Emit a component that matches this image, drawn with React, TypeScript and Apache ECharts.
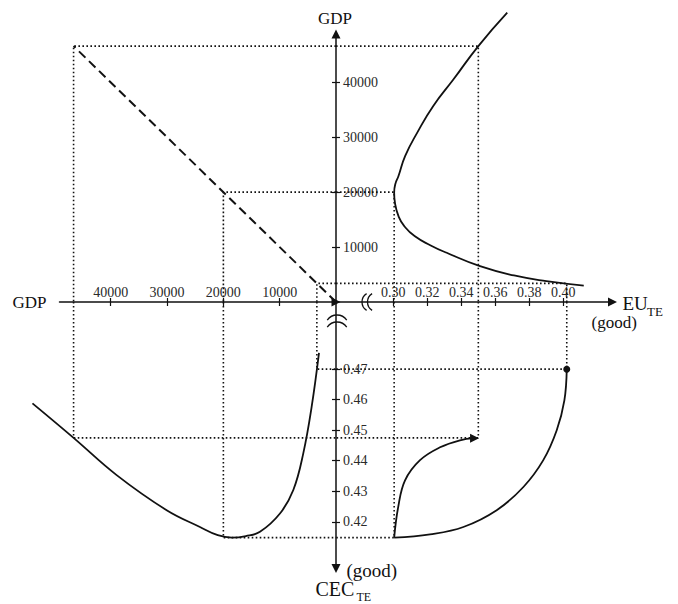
import React, { useEffect, useRef } from "react";
import * as echarts from "echarts";

// Tick values on the four half-axes
const euTicks = [0.3, 0.32, 0.34, 0.36, 0.38, 0.4];
const gdpTicks = [10000, 20000, 30000, 40000];
const cecTicks = [0.42, 0.43, 0.44, 0.45, 0.46, 0.47];

// Upper right: EU_TE against GDP
const euCurveEU = [0.412, 0.39, 0.371, 0.351, 0.3314, 0.322, 0.3125, 0.3065, 0.3032, 0.301, 0.3005, 0.3012, 0.303, 0.307, 0.314, 0.3235, 0.3353, 0.35, 0.367];
const euCurveGDP = [3000, 3800, 4830, 6520, 8960, 10300, 12000, 13800, 15500, 18000, 19900, 21500, 22900, 26600, 30800, 35700, 40500, 46600, 52700];

// Upper left: 45-degree GDP mirror line
const mirrorGDP = [0, 46600];

// Lower left: CEC_TE against GDP
const cecCurveGDP = [53900, 46600, 38950, 30070, 24160, 21000, 18500, 16000, 13500, 9950, 7580, 5810, 4320, 3020];
const cecCurveCEC = [0.4588, 0.4475, 0.4353, 0.4238, 0.4183, 0.4156, 0.4148, 0.4153, 0.4167, 0.4227, 0.4304, 0.4424, 0.4577, 0.4753];

// Lower right: EU_TE against CEC_TE paths
const pathLowEU = [0.3005, 0.3216, 0.3412, 0.3608, 0.3765, 0.3882, 0.3961, 0.4006, 0.402];
const pathLowCEC = [0.4148, 0.4159, 0.4183, 0.4238, 0.4314, 0.4402, 0.45, 0.4598, 0.47];
const pathHighEU = [0.3005, 0.3029, 0.3069, 0.3157, 0.3275, 0.3392, 0.3478];
const pathHighCEC = [0.4148, 0.4249, 0.4336, 0.4402, 0.4444, 0.4467, 0.4474];

// Reading guides (one per GDP level)
const guideGDP = [46600, 20000, 3400];
const guideEU = [0.35, 0.3005, 0.402];
const guideCEC = [0.4475, 0.4148, 0.47];

// Axis ranges
const EU_MIN = 0.2663;
const EU_MAX = 0.4289;
const GDP_UP_MAX = 48800;
const GDP_LEFT_MAX = 49100;
const CEC_MIN = 0.4047;
const CEC_MAX = 0.492;

const INK = "#111";
const LABEL = "#2a2a2a";
const SERIF = "Liberation Serif";

// Geometry of the cross
const CX = 336;
const CY = 302;
const RIGHT = 612.5;
const TOP = 34;
const LEFT = 59.5;
const BOTTOM = 568.5;
// the lower-left panel reaches further out so its curve is not cut
const LEFT_LOW = 20;

const zip = (a: number[], b: number[]) => a.map((v, i) => [v, b[i]]);

const arrowLine = (symbol: string[]) => ({
  show: true,
  onZero: false,
  symbol,
  symbolSize: [9, 9],
  lineStyle: { color: INK, width: 1.5 },
});
const hiddenLine = { show: false, onZero: false };
const ticks = (values: number[]) => ({
  show: true,
  inside: true,
  length: 4,
  customValues: values,
  lineStyle: { color: INK, width: 1.2 },
});
const labels = (values: number[], fmt: (v: number) => string, margin: number) => ({
  show: true,
  inside: true,
  margin,
  customValues: values,
  formatter: fmt,
  color: LABEL,
  fontSize: 14,
  fontFamily: SERIF,
});
const noLabels = { show: false };
const fmtDec = (v: number) => v.toFixed(2);
const fmtInt = (v: number) => String(Math.round(v));

function buildOption() {
  const solid = { color: INK, width: 1.8 };
  const dotted = { color: INK, width: 1.6, type: [1.6, 2.4] };

  const curve = (xi: number, data: any[], extra: any = {}) => ({
    type: "line",
    xAxisIndex: xi,
    yAxisIndex: xi,
    data,
    smooth: 0.4,
    showSymbol: false,
    symbol: "none",
    clip: false,
    lineStyle: solid,
    z: 5,
    ...extra,
  });
  const guide = (xi: number, data: number[][]) => ({
    type: "line",
    xAxisIndex: xi,
    yAxisIndex: xi,
    data,
    symbol: "none",
    showSymbol: false,
    clip: false,
    lineStyle: dotted,
    z: 3,
  });

  const guides: any[] = [];
  guideGDP.forEach((g, i) => {
    const e = guideEU[i];
    const c = guideCEC[i];
    guides.push(guide(0, [[EU_MIN, g], [e, g], [e, 0]]));
    guides.push(guide(1, [[0, g], [g, g], [g, 0]]));
    guides.push(guide(2, [[g, CEC_MAX], [g, c], [0, c]]));
    guides.push(guide(3, [[e, CEC_MAX], [e, c], [EU_MIN, c]]));
  });

  const lowData: any[] = zip(pathLowEU, pathLowCEC).map((p, i, arr) =>
    i === arr.length - 1 ? { value: p, symbol: "circle", symbolSize: 7, itemStyle: { color: INK } } : { value: p }
  );
  const highData: any[] = zip(pathHighEU, pathHighCEC).map((p, i, arr) =>
    i === arr.length - 1
      ? { value: p, symbol: "triangle", symbolSize: [9, 9], symbolRotate: -90, itemStyle: { color: INK } }
      : { value: p }
  );

  const W = RIGHT - CX;
  const WL = CX - LEFT;
  const WLL = CX - LEFT_LOW;
  const HU = CY - TOP;
  const HD = BOTTOM - CY;
  const GDP_LOW_MAX = (GDP_LEFT_MAX * WLL) / WL;

  const breakArc = (cx: number, cy: number, r: number, a0: number, a1: number) => ({
    type: "arc",
    shape: { cx, cy, r, startAngle: a0, endAngle: a1, clockwise: true },
    style: { stroke: INK, lineWidth: 1.3, fill: "none" },
    z: 20,
  });
  const text = (t: string, x: number, y: number, size: number) => ({
    type: "text",
    x,
    y,
    z: 20,
    style: {
      text: t,
      font: `${size}px "${SERIF}"`,
      fill: INK,
      textAlign: "left",
      textVerticalAlign: "middle",
      align: "left",
      verticalAlign: "middle",
    },
  });

  return {
    animation: false,
    backgroundColor: "#ffffff",
    grid: [
      { left: CX, top: TOP, width: W, height: HU },
      { left: LEFT, top: TOP, width: WL, height: HU },
      { left: LEFT_LOW, top: CY, width: WLL, height: HD },
      { left: CX, top: CY, width: W, height: HD },
    ],
    xAxis: [
      {
        type: "value", gridIndex: 0, min: EU_MIN, max: EU_MAX, position: "bottom",
        axisLine: arrowLine(["none", "triangle"]), axisTick: ticks(euTicks),
        axisLabel: labels(euTicks, fmtDec, 3), splitLine: { show: false },
      },
      {
        type: "value", gridIndex: 1, min: 0, max: GDP_LEFT_MAX, inverse: true, position: "bottom",
        axisLine: arrowLine(["none", "triangle"]), axisTick: ticks(gdpTicks),
        axisLabel: labels(gdpTicks, fmtInt, 3), splitLine: { show: false },
      },
      {
        type: "value", gridIndex: 2, min: 0, max: GDP_LOW_MAX, inverse: true, position: "top",
        axisLine: hiddenLine, axisTick: ticks(gdpTicks), axisLabel: noLabels, splitLine: { show: false },
      },
      {
        type: "value", gridIndex: 3, min: EU_MIN, max: EU_MAX, position: "top",
        axisLine: hiddenLine, axisTick: ticks(euTicks), axisLabel: noLabels, splitLine: { show: false },
      },
    ],
    yAxis: [
      {
        type: "value", gridIndex: 0, min: 0, max: GDP_UP_MAX, position: "left",
        axisLine: arrowLine(["none", "triangle"]), axisTick: ticks(gdpTicks),
        axisLabel: labels(gdpTicks, fmtInt, 7), splitLine: { show: false },
      },
      {
        type: "value", gridIndex: 1, min: 0, max: GDP_UP_MAX, position: "right",
        axisLine: hiddenLine, axisTick: ticks(gdpTicks), axisLabel: noLabels, splitLine: { show: false },
      },
      {
        type: "value", gridIndex: 2, min: CEC_MIN, max: CEC_MAX, position: "right",
        axisLine: hiddenLine, axisTick: ticks(cecTicks), axisLabel: noLabels, splitLine: { show: false },
      },
      {
        type: "value", gridIndex: 3, min: CEC_MIN, max: CEC_MAX, position: "left",
        axisLine: arrowLine(["triangle", "none"]), axisTick: ticks(cecTicks),
        axisLabel: labels(cecTicks, fmtDec, 7), splitLine: { show: false },
      },
    ],
    series: [
      ...guides,
      curve(0, zip(euCurveEU, euCurveGDP), { smooth: 0.5 }),
      curve(1, [[mirrorGDP[0], mirrorGDP[0]], [mirrorGDP[1], mirrorGDP[1]]], {
        smooth: false,
        lineStyle: { color: INK, width: 2, type: [9, 5] },
      }),
      curve(2, zip(cecCurveGDP, cecCurveCEC)),
      curve(3, lowData, { showSymbol: true }),
      curve(3, highData, { showSymbol: true }),
    ],
    graphic: {
      elements: [
        // axis break marks
        breakArc(372, CY, 10, Math.PI - 1, Math.PI + 1),
        breakArc(377.5, CY, 10, Math.PI - 1, Math.PI + 1),
        breakArc(CX + 1, 327, 12, -Math.PI / 2 - 0.95, -Math.PI / 2 + 0.95),
        breakArc(CX + 1, 334, 12, -Math.PI / 2 - 0.95, -Math.PI / 2 + 0.95),
        // axis titles
        text("GDP", 318, 18.5, 17),
        text("GDP", 12.5, 302.5, 17),
        text("EU", 622.5, 303, 19),
        text("TE", 647, 311.5, 13),
        text("(good)", 591.5, 322, 17),
        text("(good)", 346.5, 570.5, 19),
        text("CEC", 315.5, 589, 20),
        text("TE", 356.5, 597, 12),
      ],
    },
  };
}

export default function App() {
  const ref = useRef<HTMLDivElement>(null);
  useEffect(() => {
    document.body.style.margin = "0";
    if (!ref.current) return;
    const chart = echarts.init(ref.current, undefined, { renderer: "svg" });
    chart.setOption(buildOption() as any);
    return () => chart.dispose();
  }, []);
  return <div ref={ref} style={{ width: 678, height: 604 }} />;
}
